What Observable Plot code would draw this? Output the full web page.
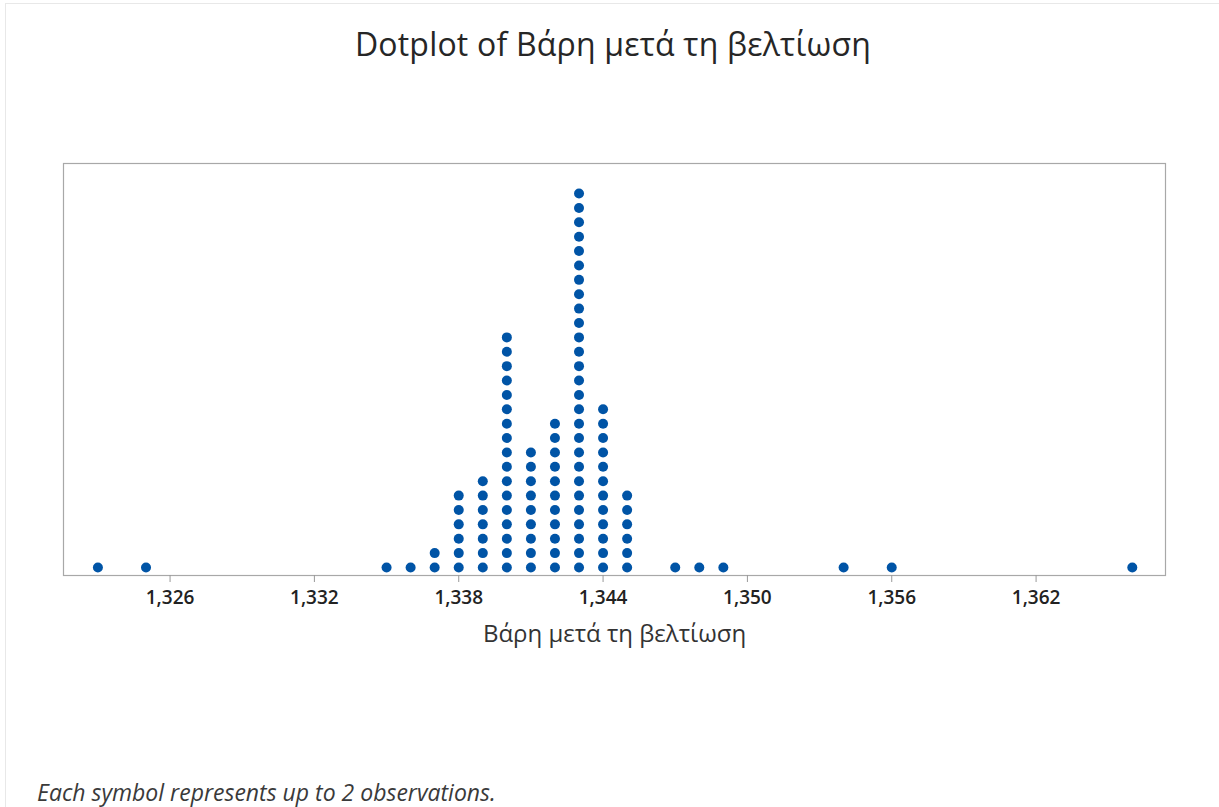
<!DOCTYPE html>
<html>
<head>
<meta charset="utf-8">
<script src="https://cdn.jsdelivr.net/npm/d3@7"></script>
<script src="https://cdn.jsdelivr.net/npm/@observablehq/plot@0.6"></script>
<style>
  html, body { margin: 0; padding: 0; background: #fff; }
  #page { position: relative; width: 1219px; height: 807px; overflow: hidden; font-family: "Open Sans", "Noto Sans", sans-serif; }
  #border { position: absolute; left: 5px; top: 3px; width: 1300px; height: 900px; border-left: 1px solid #e8e8e8; border-top: 1px solid #e8e8e8; }
  #title { position: absolute; left: 0; width: 1226px; top: 22px; text-align: center; font-size: 32px; color: #262626; letter-spacing: 0.2px; }
  #chart { position: absolute; left: 0; top: 100px; }
  #note { position: absolute; left: 37px; top: 776px; font-size: 23px; font-style: italic; color: #3a3a3a; }
</style>
</head>
<body>
<div id="page">
  <div id="border"></div>
  <div id="title">Dotplot of Βάρη μετά τη βελτίωση</div>
  <div id="chart"></div>
  <div id="note">Each symbol represents up to 2 observations.</div>
</div>
<script>
// Bin centres (weights) and number of symbols stacked at each
const binValues = [1323, 1325, 1335, 1336, 1337, 1338, 1339, 1340, 1341, 1342, 1343, 1344, 1345, 1347, 1348, 1349, 1354, 1356, 1366];
const symbolCounts = [1, 1, 1, 1, 2, 6, 7, 17, 9, 11, 27, 12, 6, 1, 1, 1, 1, 1, 1];
const tickValues = [1326, 1332, 1338, 1344, 1350, 1356, 1362];
const axisLabel = "Βάρη μετά τη βελτίωση";

const dots = [];
binValues.forEach((v, i) => {
  for (let r = 0; r < symbolCounts[i]; r++) dots.push({value: v, row: r});
});

const chart = Plot.plot({
  width: 1219,
  height: 560,
  marginTop: 63,
  marginBottom: 85,
  marginLeft: 63,
  marginRight: 54,
  style: {fontFamily: '"Open Sans", "Noto Sans", sans-serif', background: "transparent"},
  x: {domain: [1321.57, 1367.38]},
  y: {domain: [-0.556, 28.09], axis: null},
  marks: [
    Plot.frame({stroke: "#a8a8a8", strokeWidth: 1.2}),
    Plot.axisX({
      ticks: tickValues,
      tickFormat: d3.format(","),
      tickSize: 7,
      tickPadding: 8,
      stroke: "#999",
      fontSize: 19,
      fontWeight: 600,
      fill: "#222",
      label: null
    }),
    Plot.text([axisLabel], {
      frameAnchor: "bottom",
      dy: 66,
      text: d => d,
      fontSize: 24,
      fill: "#333"
    }),
    Plot.dot(dots, {x: "value", y: "row", r: 5, fill: "#0054A6", stroke: "none"})
  ]
});
document.getElementById("chart").appendChild(chart);
</script>
</body>
</html>
